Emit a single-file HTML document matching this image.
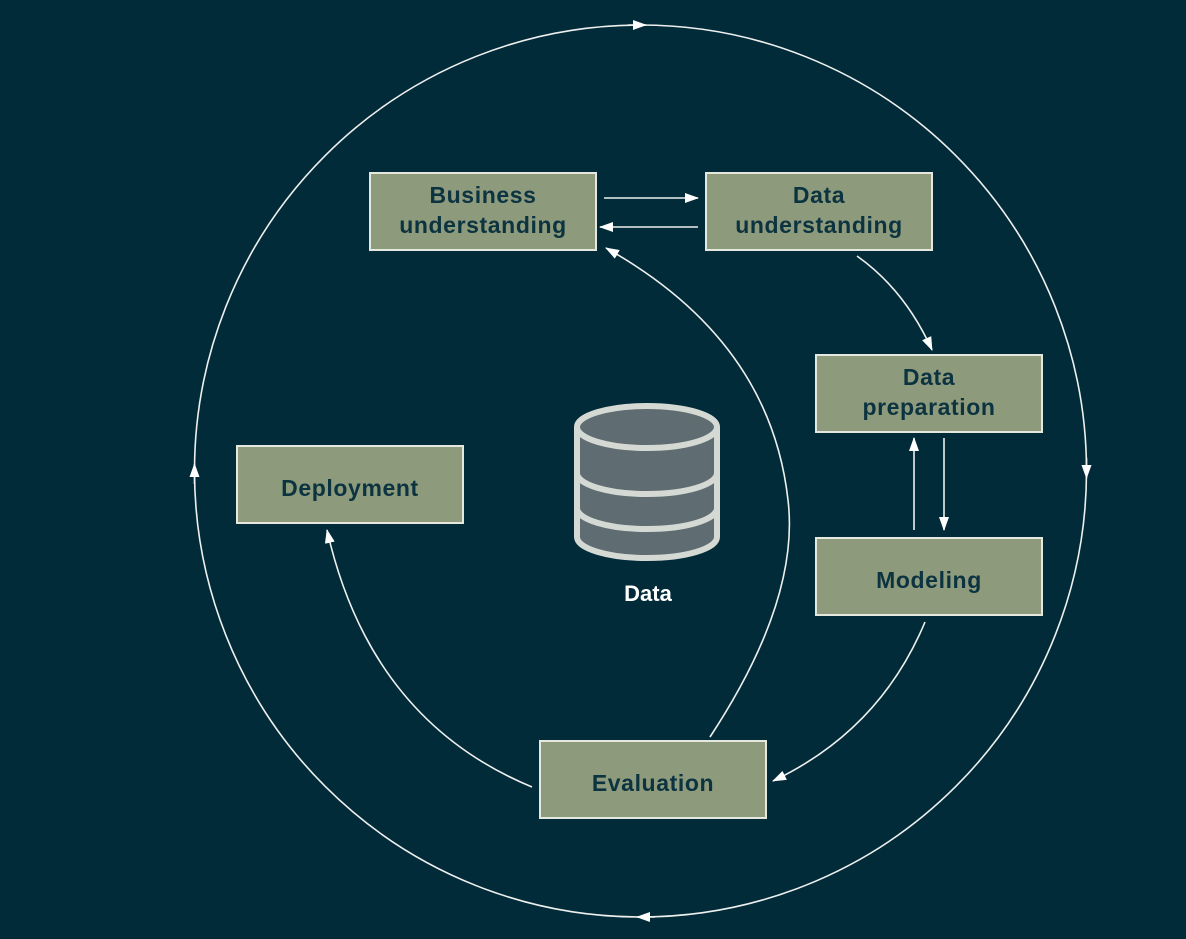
<!DOCTYPE html>
<html><head><style>
html,body{margin:0;padding:0;background:#022b3a;}
svg{display:block}
.b{fill:#8e9a7c;stroke:#e4e8df;stroke-width:2}
.t{font-family:"Liberation Sans",sans-serif;font-weight:bold;font-size:23px;letter-spacing:0.6px;fill:#0b3340;text-anchor:middle}
.l{fill:none;stroke:#eef0ee;stroke-width:1.6}
</style></head><body>
<svg width="1186" height="939" viewBox="0 0 1186 939">
<defs><marker id="a" markerWidth="14" markerHeight="10" refX="13" refY="5" orient="auto" markerUnits="userSpaceOnUse"><path d="M0,0 L14,5 L0,10 z" fill="#fff"/></marker></defs>
<circle cx="640.5" cy="471" r="446" class="l"/>
<path d="M628,25 L646,25" class="l" marker-end="url(#a)"/>
<path d="M1086.5,458 L1086.5,478" class="l" marker-end="url(#a)"/>
<path d="M655,917 L637,917" class="l" marker-end="url(#a)"/>
<path d="M194.5,484 L194.5,464" class="l" marker-end="url(#a)"/>
<path d="M604,198 L698,198" class="l" marker-end="url(#a)"/>
<path d="M698,227 L600,227" class="l" marker-end="url(#a)"/>
<path d="M857,256 Q905,290 932,350" class="l" marker-end="url(#a)"/>
<path d="M914,530 L914,438" class="l" marker-end="url(#a)"/>
<path d="M944,438 L944,530" class="l" marker-end="url(#a)"/>
<path d="M925,622 Q880,730 773,781" class="l" marker-end="url(#a)"/>
<path d="M710,737 Q800,600 788,500 Q770,340 606,248" class="l" marker-end="url(#a)"/>
<path d="M532,787 Q370,720 327,530" class="l" marker-end="url(#a)"/>
<rect class="b" x="370" y="173" width="226" height="77"/>
<text class="t" x="483" y="203">Business</text><text class="t" x="483" y="233">understanding</text>
<rect class="b" x="706" y="173" width="226" height="77"/>
<text class="t" x="819" y="203">Data</text><text class="t" x="819" y="233">understanding</text>
<rect class="b" x="816" y="355" width="226" height="77"/>
<text class="t" x="929" y="385">Data</text><text class="t" x="929" y="415">preparation</text>
<rect class="b" x="237" y="446" width="226" height="77"/>
<text class="t" x="350" y="496">Deployment</text>
<rect class="b" x="816" y="538" width="226" height="77"/>
<text class="t" x="929" y="588">Modeling</text>
<rect class="b" x="540" y="741" width="226" height="77"/>
<text class="t" x="653" y="791">Evaluation</text>
<g fill="#5f6d72" stroke="#d5d9d4" stroke-width="6">
<path d="M577,427 L577,537 A70,21 0 0 0 717,537 L717,427"/>
<path d="M577,473 A70,21 0 0 0 717,473" fill="none"/>
<path d="M577,508 A70,21 0 0 0 717,508" fill="none"/>
<ellipse cx="647" cy="427" rx="70" ry="21"/>
</g>
<text x="648" y="601" font-family="Liberation Sans,sans-serif" font-weight="bold" font-size="22" fill="#fff" text-anchor="middle">Data</text>
</svg>
</body></html>
